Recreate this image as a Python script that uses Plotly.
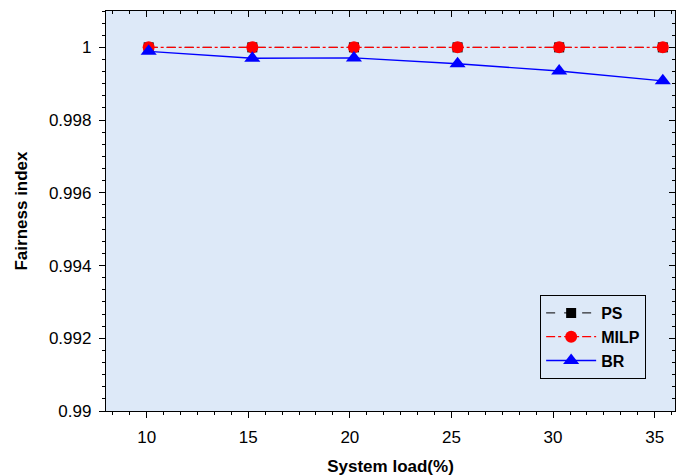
import plotly.graph_objects as go

load = [10.1, 15.2, 20.2, 25.3, 30.3, 35.4]
ps = [1.0, 1.0, 1.0, 1.0, 1.0, 1.0]
milp = [1.0, 1.0, 1.0, 1.0, 1.0, 1.0]
br = [0.99989, 0.99970, 0.99971, 0.99955, 0.99935, 0.99908]

x_ticks = [10, 15, 20, 25, 30, 35]
y_ticks = [0.99, 0.992, 0.994, 0.996, 0.998, 1.0]
y_labels = ["0.99", "0.992", "0.994", "0.996", "0.998", "1"]

xr = [8, 36]
yr = [0.99, 1.001]
font = "Liberation Sans, Arial, sans-serif"

fig = go.Figure()
fig.add_trace(go.Scatter(x=load, y=ps, name="PS", mode="lines+markers",
                         line=dict(color="black", width=1, dash="dash"),
                         marker=dict(symbol="square", size=10, color="black")))
fig.add_trace(go.Scatter(x=load, y=milp, name="MILP", mode="lines+markers",
                         line=dict(color="#ff0000", width=1.2, dash="dashdot"),
                         marker=dict(symbol="circle", size=12, color="#ff0000")))
fig.add_trace(go.Scatter(x=load, y=br, name="BR", mode="lines+markers",
                         line=dict(color="#0000ff", width=1.3),
                         marker=dict(symbol="triangle-up", size=14, color="#0000ff")))
fig.add_trace(go.Scatter(x=[None], y=[None], xaxis="x2", yaxis="y2",
                         showlegend=False, hoverinfo="skip"))

common = dict(showline=True, linecolor="black", linewidth=1.3, showgrid=False,
              zeroline=False, tickcolor="black", tickwidth=1.2, automargin=False)

fig.update_layout(
    width=686, height=476,
    margin=dict(l=106, r=11, t=11, b=65),
    paper_bgcolor="white", plot_bgcolor="#dde9f8",
    font=dict(family=font, size=17, color="black"),
    xaxis=dict(range=xr, tickvals=x_ticks, ticks="outside", ticklen=6,
               ticklabelstandoff=4,
               minor=dict(dtick=5/6, tick0=10, ticks="outside", ticklen=3,
                          tickcolor="black", tickwidth=1),
               title=dict(text="<b>System load(%)</b>", font=dict(size=17), standoff=14),
               **common),
    yaxis=dict(range=yr, tickvals=y_ticks, ticktext=y_labels, ticks="outside", ticklen=6,
               ticklabelstandoff=4,
               minor=dict(dtick=0.002/6, tick0=0.99, ticks="outside", ticklen=3,
                          tickcolor="black", tickwidth=1),
               title=dict(text="<b>Fairness index</b>", font=dict(size=17), standoff=16),
               **common),
    xaxis2=dict(range=xr, overlaying="x", side="top", tickvals=x_ticks, ticks="inside",
                ticklen=6, showticklabels=False,
                minor=dict(dtick=5/6, tick0=10, ticks="inside", ticklen=3,
                           tickcolor="black", tickwidth=1),
                **common),
    yaxis2=dict(range=yr, overlaying="y", side="right", tickvals=y_ticks, ticks="inside",
                ticklen=6, showticklabels=False,
                minor=dict(dtick=0.002/6, tick0=0.99, ticks="inside", ticklen=3,
                           tickcolor="black", tickwidth=1),
                **common),
    legend=dict(x=0.763, y=0.29, xanchor="left", yanchor="top",
                bgcolor="#dde9f8", bordercolor="black", borderwidth=1,
                font=dict(size=16, family=font, weight="bold"), tracegroupgap=0,
                itemwidth=50),
    showlegend=True,
)

fig.write_html("out.html")
